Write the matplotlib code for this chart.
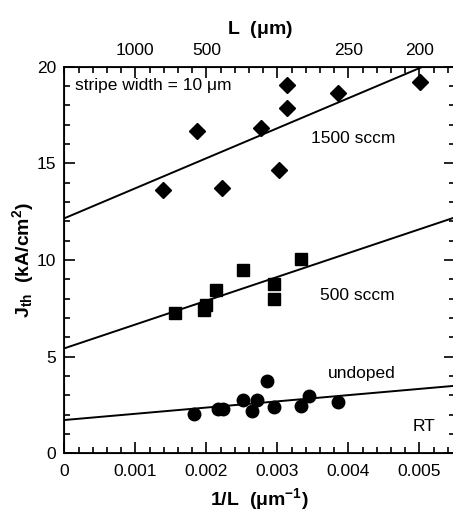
import matplotlib
matplotlib.use("Agg")
import matplotlib.pyplot as plt
import numpy as np
from matplotlib.ticker import MultipleLocator

plt.rcParams["font.family"] = ["Liberation Sans", "DejaVu Sans"]
plt.rcParams["mathtext.fontset"] = "custom"
plt.rcParams["mathtext.rm"] = "Liberation Sans:bold"
plt.rcParams["mathtext.it"] = "Liberation Sans:bold"
plt.rcParams["mathtext.bf"] = "Liberation Sans:bold"

# ---------------------------------------------------------------------------
# data (x = 1/L in um^-1, y = Jth in kA/cm^2)
# ---------------------------------------------------------------------------
x_1500 = [0.00139, 0.00187, 0.00222, 0.00277, 0.00302, 0.00314, 0.00314, 0.00386, 0.00501]
y_1500 = [13.65, 16.70, 13.75, 16.85, 14.64, 19.05, 17.85, 18.62, 19.20]

x_500 = [0.00156, 0.00197, 0.00200, 0.00213, 0.00251, 0.00295, 0.00295, 0.00334]
y_500 = [7.27, 7.41, 7.67, 8.45, 9.48, 8.76, 7.97, 10.04]

x_undoped = [0.00183, 0.00217, 0.00224, 0.00251, 0.00264, 0.00271, 0.00286, 0.00295,
             0.00334, 0.00345, 0.00386]
y_undoped = [2.03, 2.28, 2.28, 2.76, 2.20, 2.76, 3.76, 2.38, 2.45, 2.96, 2.67]

# fitted lines: (intercept, slope)
fit_1500 = (12.16, 1554.0)
fit_500 = (5.43, 1232.0)
fit_undoped = (1.72, 322.0)

top_ticks = [0.001, 0.002, 0.003, 0.004, 0.005]
top_labels = ["1000", "500", "", "250", "200"]

XMAX = 0.0055
FS = 12.5

fig = plt.figure(figsize=(4.53, 5.18), dpi=100)
ax = fig.add_axes([0.142, 0.125, 0.862, 0.746])

xs = np.array([0, XMAX])
for b, m in (fit_1500, fit_500, fit_undoped):
    ax.plot(xs, b + m * xs, color="black", lw=1.4)

ax.plot(x_1500, y_1500, "D", color="black", ms=8, ls="none")
ax.plot(x_500, y_500, "s", color="black", ms=9, ls="none")
ax.plot(x_undoped, y_undoped, "o", color="black", ms=9, ls="none")

ax.set_xlim(0, XMAX)
ax.set_ylim(0, 20)
ax.xaxis.set_major_locator(MultipleLocator(0.001))
ax.xaxis.set_minor_locator(MultipleLocator(0.0002))
ax.yaxis.set_major_locator(MultipleLocator(5))
ax.yaxis.set_minor_locator(MultipleLocator(1))
ax.set_xticks([0, 0.001, 0.002, 0.003, 0.004, 0.005])
ax.set_xticklabels(["0", "0.001", "0.002", "0.003", "0.004", "0.005"])
ax.tick_params(which="both", direction="in", right=True, labelsize=FS, width=1.2)
ax.tick_params(which="major", length=8, pad=8)
ax.tick_params(axis="y", which="major", pad=6)
ax.tick_params(which="minor", length=4)
for s in ax.spines.values():
    s.set_linewidth(1.3)

ax.set_xlabel(r"1/L  ($\mu$m$^{-1}$)", fontsize=14, fontweight="bold", labelpad=5)
ax.set_ylabel(r"J$_{th}$  (kA/cm$^{2}$)", fontsize=14, fontweight="bold", labelpad=0)

top = ax.twiny()
top.set_xlim(ax.get_xlim())
top.set_xticks(top_ticks)
top.set_xticklabels(top_labels)
top.xaxis.set_minor_locator(MultipleLocator(0.0002))
top.tick_params(which="both", direction="in", labelsize=FS, width=1.2)
top.tick_params(which="major", length=8, pad=6)
top.tick_params(which="minor", length=4)
top.set_xlabel(r"L  ($\mu$m)", fontsize=14, fontweight="bold", labelpad=7)

ax.text(0.00015, 19.05, "stripe width = 10 μm", fontsize=FS, va="center")
ax.text(0.00407, 16.3, "1500 sccm", fontsize=FS, ha="center", va="center")
ax.text(0.00413, 8.19, "500 sccm", fontsize=FS, ha="center", va="center")
ax.text(0.00419, 4.14, "undoped", fontsize=FS, ha="center", va="center")
ax.text(0.00507, 1.38, "RT", fontsize=FS, ha="center", va="center")

fig.savefig("out.png", dpi=100)
